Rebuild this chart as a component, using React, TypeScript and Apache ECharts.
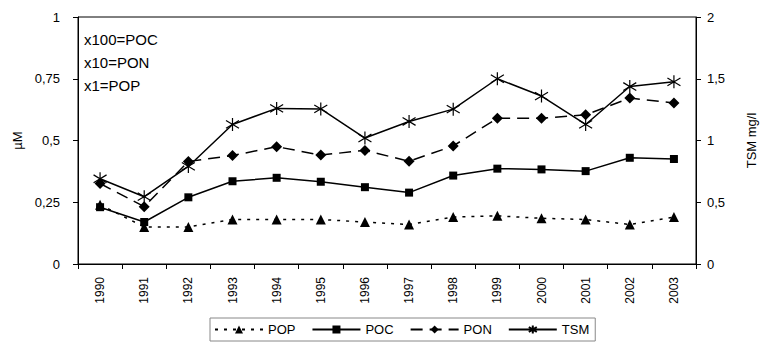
import React, { useEffect, useRef } from "react";
import * as echarts from "echarts";

const years = ["1990","1991","1992","1993","1994","1995","1996","1997","1998","1999","2000","2001","2002","2003"];
const pop = [0.24, 0.15, 0.15, 0.18, 0.18, 0.18, 0.17, 0.16, 0.19, 0.195, 0.185, 0.18, 0.16, 0.19];
const poc = [0.23, 0.17, 0.27, 0.335, 0.349, 0.333, 0.311, 0.289, 0.358, 0.386, 0.383, 0.376, 0.43, 0.425];
const pon = [0.326, 0.232, 0.415, 0.439, 0.475, 0.441, 0.46, 0.416, 0.478, 0.59, 0.59, 0.604, 0.672, 0.652];
const tsm = [0.69, 0.545, 0.79, 1.13, 1.26, 1.256, 1.02, 1.154, 1.254, 1.5, 1.36, 1.13, 1.437, 1.475];
const notes = ["x100=POC", "x10=PON", "x1=POP"];

const FONT = "'Liberation Sans', Arial, sans-serif";
const STAR = "path://M5 0 L5 10 M0.7 2 L9.3 8 M0.7 8 L9.3 2";
const fmt = (v: number) => String(v).replace(".", ",");

export default function App() {
  const ref = useRef<HTMLDivElement>(null);
  useEffect(() => {
    const chart = echarts.init(ref.current!, null, { renderer: "svg" });
    const axisCommon = {
      axisLine: { show: true, lineStyle: { color: "#000", width: 1 } },
      axisTick: { show: true, inside: false, length: 5, lineStyle: { color: "#000" } },
      splitLine: { show: false },
      nameTextStyle: { color: "#000", fontSize: 13, fontFamily: FONT },
    };
    const black = "#000";
    chart.setOption({
      animation: false,
      backgroundColor: "#fff",
      textStyle: { fontFamily: FONT },
      grid: { left: 78, right: 58, top: 17, bottom: 90, show: true, borderColor: "#000", borderWidth: 1 },
      xAxis: {
        type: "category",
        data: years,
        boundaryGap: true,
        axisLine: { lineStyle: { color: "#000" } },
        axisTick: { show: true, length: 5, alignWithLabel: false, lineStyle: { color: "#000" } },
        axisLabel: { rotate: 90, color: "#000", fontSize: 12, fontFamily: FONT, margin: 13, interval: 0 },
      },
      yAxis: [
        {
          type: "value", min: 0, max: 1, interval: 0.25, position: "left",
          name: "µM", nameLocation: "middle", nameGap: 31, ...axisCommon,
          axisLabel: { color: "#000", fontSize: 13, fontFamily: FONT, formatter: fmt, margin: 18 },
        },
        {
          type: "value", min: 0, max: 2, interval: 0.5, position: "right",
          name: "TSM mg/l", nameLocation: "middle", nameGap: 49, ...axisCommon,
          axisLabel: { color: "#000", fontSize: 13, fontFamily: FONT, formatter: fmt, margin: 11 },
        },
      ],
      legend: {
        left: 210,
        top: 318,
        itemWidth: 48,
        itemHeight: 10,
        itemGap: 16,
        borderColor: "#888",
        borderWidth: 1,
        padding: [5, 6, 5, 4],
        textStyle: { color: "#000", fontSize: 13, fontFamily: FONT },
        data: ["POP", "POC", "PON", "TSM"],
      },
      graphic: notes.map((t, i) => ({
        type: "text",
        left: 84,
        top: 32 + i * 23,
        style: { text: t, fill: "#000", font: `15px ${FONT}` },
      })),
      series: [
        {
          name: "POP", type: "line", data: pop, yAxisIndex: 0,
          symbol: "triangle", symbolSize: 10,
          lineStyle: { color: black, width: 1.5, type: [3, 6] },
          itemStyle: { color: black },
        },
        {
          name: "POC", type: "line", data: poc, yAxisIndex: 0,
          symbol: "rect", symbolSize: 8,
          lineStyle: { color: black, width: 1.5 },
          itemStyle: { color: black },
        },
        {
          name: "PON", type: "line", data: pon, yAxisIndex: 0,
          symbol: "diamond", symbolSize: 11,
          lineStyle: { color: black, width: 1.5, type: [12, 7] },
          itemStyle: { color: black },
        },
        {
          name: "TSM", type: "line", data: tsm, yAxisIndex: 1,
          symbol: STAR, symbolSize: 13,
          lineStyle: { color: black, width: 1.5 },
          itemStyle: { color: black, borderColor: black, borderWidth: 1.2 },
        },
      ],
    });
    return () => chart.dispose();
  }, []);
  return <div ref={ref} style={{ position: "fixed", left: 0, top: 0, width: 766, height: 354 }} />;
}
